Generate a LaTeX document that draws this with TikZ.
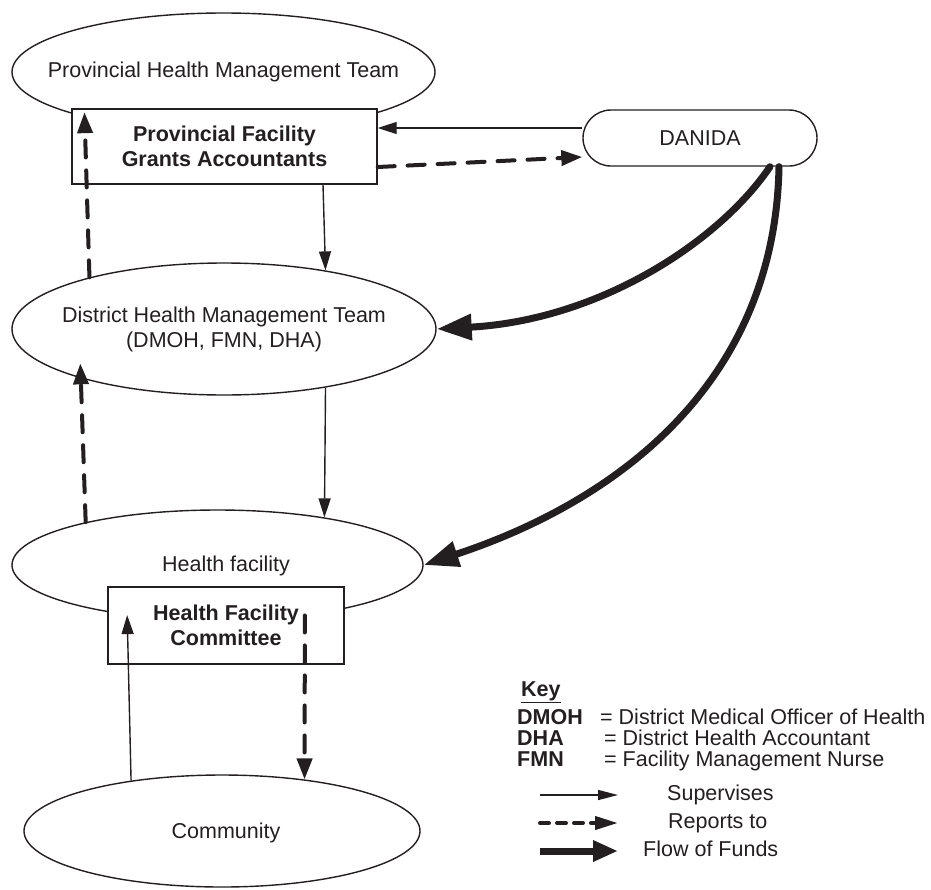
\documentclass[tikz,border=0pt]{standalone}
\usepackage{fontspec}
\setmainfont{Liberation Sans}
\usetikzlibrary{arrows.meta,shapes.geometric}
\definecolor{ink}{RGB}{35,31,32}
\begin{document}
\begin{tikzpicture}[x=1pt,y=-1pt,
  every node/.style={font=\fontsize{21.5}{25}\selectfont, text=ink},
  ell/.style={draw=ink, line width=1.4pt, ellipse, inner sep=0pt},
  box/.style={draw=ink, line width=1.4pt, fill=white, rectangle, inner sep=0pt, align=center, font=\fontsize{21.5}{25}\selectfont\bfseries},
  kt/.style={anchor=west, inner sep=0pt, text height=15pt, text depth=4.5pt},
  kb/.style={kt, font=\fontsize{21.5}{25}\selectfont\bfseries},
  sup/.style={draw=ink, line width=1.4pt, -{Triangle[length=19pt,width=12pt]}},
  rep/.style={draw=ink, line width=4pt, dash pattern=on 17pt off 13pt, line cap=round, -{Triangle[length=21pt,width=15pt]}},
  fund/.style={draw=ink, line width=7pt, line cap=round, -{Triangle[length=35pt,width=25pt]}},
]
\useasboundingbox (0,0) rectangle (931,889);

% Nodes
\node[ell, minimum width=423pt, minimum height=118pt] (phmt) at (223.5,72) {};
\node (phmtt) at (phmt) {Provincial Health Management Team};
\node[box, minimum width=305pt, minimum height=75pt] (pfga) at (224.5,146.5) {Provincial Facility\\Grants Accountants};
\node[draw=ink, line width=1.4pt, rounded corners=28pt, minimum width=234pt, minimum height=56pt, inner sep=0pt] (danida) at (700,138) {DANIDA};
\node[ell, minimum width=424pt, minimum height=132pt] (dhmt) at (224,329) {};
\node[align=center] (dhmtt) at (dhmt) {District Health Management Team\\(DMOH, FMN, DHA)};
\node[ell, minimum width=411pt, minimum height=110pt] (hf) at (217.5,565) {};
\node (hft) at (226,566) {Health facility};
\node[box, minimum width=236pt, minimum height=77pt] (hfc) at (226,625.5) {Health Facility\\Committee};
\node[ell, minimum width=396pt, minimum height=112pt] (com) at (222,831) {};
\node (comt) at (226,833) {Community};

% Connectors
\draw[sup] ([yshift=10pt]danida.west) -- ([yshift=18.5pt]pfga.east);
\draw[rep] ([yshift=-20.5pt]pfga.east) -- ([yshift=-19pt]danida.west);
\draw[sup] ([xshift=98.5pt]pfga.south) -- (dhmt.30.5);
\draw[sup] (dhmt.-30.5) -- (hf.24.1);
\draw[rep] (hf.-30.3) -- (com.32.2);
\draw[sup] (com.151.7) -- (hf.209.6);
\draw[rep, shorten >=-15pt] (hf.162.8) -- (dhmt.199.27);
\draw[rep, shorten >=-5pt] (dhmt.159.6) -- (phmt.198.5);
\draw[fund] ([xshift=70pt]danida.south) .. controls +(-50,74) and +(164,-9) .. (dhmt.east);
\draw[fund] ([xshift=79pt]danida.south) .. controls +(-4,214) and +(197,-65) .. (hf.east);

% Key
\node[anchor=west, inner sep=0pt, font=\fontsize{21.5}{25}\selectfont\bfseries] (key) at (521,692) {\underline{Key}};
\node[kb] (dmoh) at (517,719.5) {DMOH};
\node[kt] (dmohd) at (600,719.5) {= District Medical Officer of Health};
\node[kb] (dha) at (517,740.5) {DHA};
\node[kt] (dhad) at (604,740.5) {= District Health Accountant};
\node[kb] (fmn) at (517,761.5) {FMN};
\node[kt] (fmnd) at (604,761.5) {= Facility Management Nurse};

\coordinate (s1) at (540,795); \coordinate (s2) at (618,795);
\coordinate (r1) at (540,823); \coordinate (r2) at (618,823);
\coordinate (f1) at (540,851); \coordinate (f2) at (618,851);
\draw[draw=ink, line width=1.4pt, -{Triangle[length=20pt,width=10pt]}] (s1) -- (s2);
\draw[draw=ink, line width=4pt, dash pattern=on 9pt off 8pt, line cap=round, -{Triangle[length=23pt,width=13pt]}] (r1) -- (r2);
\draw[draw=ink, line width=7pt, -{Triangle[length=25pt,width=20pt]}] (f1) -- (f2);
\node[kt] (lsup) at (667,795) {Supervises};
\node[kt] (lrep) at (668,823) {Reports to};
\node[kt] (lfund) at (643,851) {Flow of Funds};
\end{tikzpicture}
\end{document}
